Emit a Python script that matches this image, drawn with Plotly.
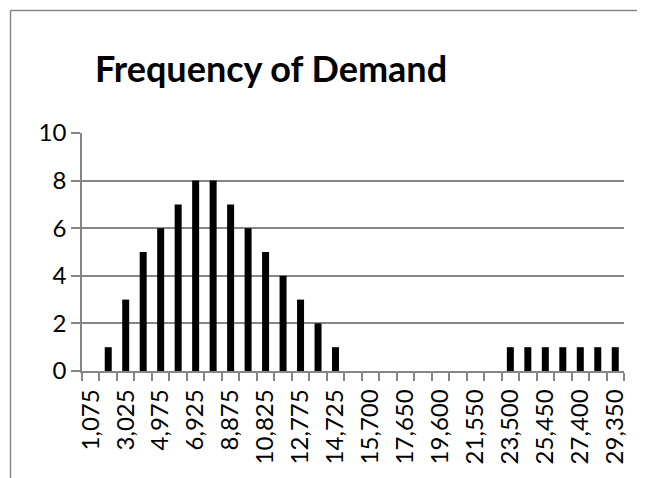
import plotly.graph_objects as go

# Demand bins (category labels) and their frequencies
bins = ["1,075", "2,050", "3,025", "4,000", "4,975", "5,950", "6,925", "7,900",
        "8,875", "9,850", "10,825", "11,800", "12,775", "13,750", "14,725",
        "15,213", "15,700", "16,675", "17,650", "18,625", "19,600", "20,575",
        "21,550", "22,525", "23,500", "24,475", "25,450", "26,425", "27,400",
        "28,375", "29,350"]
frequency = [0, 1, 3, 5, 6, 7, 8, 8, 7, 6, 5, 4, 3, 2, 1,
             0, 0, 0, 0, 0, 0, 0, 0, 0, 1, 1, 1, 1, 1, 1, 1]
# Only every other bin label is shown
shown_labels = [b if i % 2 == 0 else "" for i, b in enumerate(bins)]

title_text = "Frequency of Demand"
y_ticks = [0, 2, 4, 6, 8, 10]

FONT = "Lato, Carlito, Calibri, sans-serif"
GRAY = "#868686"

fig = go.Figure(go.Bar(x=bins, y=frequency, marker_color="black",
                       marker_line_width=0))

# page body has an 8px margin, so figure coordinates = screen - 8
W, H = 637, 470
L, R, T, B = 74, 21, 125, 107
pw, ph = W - L - R, H - T - B

fig.update_layout(
    width=W, height=H,
    margin=dict(l=L, r=R, t=T, b=B, pad=0),
    paper_bgcolor="white", plot_bgcolor="white",
    bargap=0.6,
    showlegend=False,
    font=dict(family=FONT, size=24, color="black"),
    title=dict(text="<b>" + title_text + "</b>", x=263 / W, xanchor="center",
               xref="container", y=1 - 61 / H, yanchor="middle", yref="container",
               font=dict(family=FONT, size=36, color="black")),
)

fig.update_xaxes(
    type="category", tickmode="array", tickvals=bins, ticktext=shown_labels,
    tickson="boundaries", ticks="outside", ticklen=8, tickcolor=GRAY, tickwidth=1.5,
    tickangle=-90, showgrid=False, showline=True, linecolor=GRAY, linewidth=1.5,
    ticklabelstandoff=7, range=[-0.5, len(bins) - 0.5],
    tickfont=dict(family=FONT, size=24, color="black"),
)
fig.update_yaxes(
    range=[0, 10], tickmode="array", tickvals=y_ticks,
    ticks="outside", ticklen=9, tickcolor=GRAY, tickwidth=1.5,
    showgrid=True, gridcolor=GRAY, gridwidth=1.5,
    showline=True, linecolor=GRAY, linewidth=1.5, zeroline=False,
    tickfont=dict(family=FONT, size=24, color="black"),
)

# chart area border (cropped on right and bottom)
bx = (2.5 - L) / pw
by = (H - B - 2.5) / ph
xr = (W - L) / pw
fig.add_shape(type="line", xref="paper", yref="paper", x0=bx, x1=xr, y0=by, y1=by,
              line=dict(color=GRAY, width=1.5))
fig.add_shape(type="line", xref="paper", yref="paper", x0=bx, x1=bx, y0=by,
              y1=-(B + 5) / ph, line=dict(color=GRAY, width=1.5))

fig.write_html("out.html", config={"displayModeBar": False})
